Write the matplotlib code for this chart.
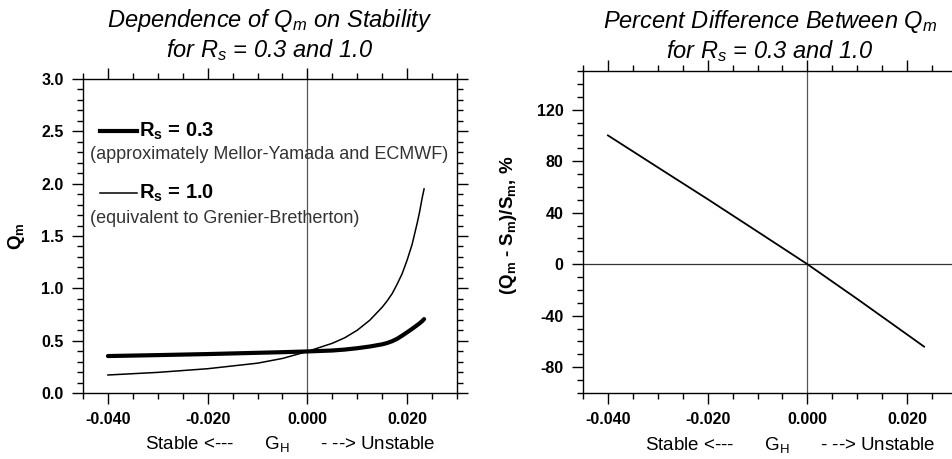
import numpy as np
import matplotlib
matplotlib.use("Agg")
import matplotlib.pyplot as plt
from matplotlib.ticker import MultipleLocator, FixedLocator, FixedFormatter

plt.rcParams['font.family'] = ['Liberation Sans', 'DejaVu Sans']
plt.rcParams['mathtext.default'] = 'regular'
plt.rcParams['axes.unicode_minus'] = False

# G_H values
gh = [-0.040, -0.030, -0.020, -0.010, -0.005, 0.000, 0.005, 0.0075, 0.010,
      0.0125, 0.015, 0.016, 0.017, 0.018, 0.019, 0.020, 0.021, 0.022,
      0.0225, 0.023, 0.0234]
# Q_m for R_s = 0.3 (thick)
qm_03 = [0.353, 0.362, 0.372, 0.384, 0.390, 0.397, 0.406, 0.415, 0.428,
         0.444, 0.465, 0.478, 0.495, 0.518, 0.548, 0.580, 0.613, 0.648,
         0.666, 0.686, 0.706]
# Q_m for R_s = 1.0 (thin)
qm_10 = [0.172, 0.197, 0.232, 0.285, 0.330, 0.397, 0.475, 0.528, 0.600,
         0.695, 0.820, 0.880, 0.950, 1.040, 1.140, 1.270, 1.420, 1.620,
         1.730, 1.860, 1.950]

# percent difference
gh_pct = [-0.040, -0.030, -0.020, -0.010, 0.000, 0.010, 0.020, 0.0234]
pct = [100, 75.2, 50.5, 25.3, 0, -27, -54.6, -64]

xticks = [-0.04, -0.02, 0.0, 0.02]
xticklabels = ['-0.040', '-0.020', '0.000', '0.020']

W, H = 952, 459
fig = plt.figure(figsize=(W / 100, H / 100), dpi=100)


def px_axes(l, r, t, b):
    return fig.add_axes([l / W, (H - b) / H, (r - l) / W, (b - t) / H])


def style(ax):
    ax.set_xlim(-0.045, 0.03)
    ax.xaxis.set_major_locator(FixedLocator(xticks))
    ax.xaxis.set_major_formatter(FixedFormatter(xticklabels))
    ax.xaxis.set_minor_locator(MultipleLocator(0.005))
    ax.tick_params(which='both', direction='out', top=True, right=True,
                   width=1, color='black')
    ax.tick_params(which='major', length=8, labelsize=11.5, pad=6)
    ax.tick_params(which='minor', length=4)
    for lab in ax.get_xticklabels() + ax.get_yticklabels():
        lab.set_fontweight('bold')
    for s in ax.spines.values():
        s.set_linewidth(1.0)
    ax.set_xlabel('Stable <---      G$_H$      - --> Unstable', fontsize=13.5)
    ax.xaxis.set_label_coords(0.555, -0.13)


# left panel
ax1 = px_axes(83, 457, 79, 393)
ax1.axvline(0, color='#555555', lw=0.9)
ax1.plot(gh, qm_03, color='black', lw=3.0, solid_capstyle='round')
ax1.plot(gh, qm_10, color='black', lw=1.1)
ax1.set_ylim(0, 3.0)
ax1.yaxis.set_major_locator(MultipleLocator(0.5))
ax1.yaxis.set_major_formatter(plt.FormatStrFormatter('%.1f'))
ax1.yaxis.set_minor_locator(MultipleLocator(0.1))
style(ax1)
ax1.set_ylabel('Q$_m$', fontsize=13.5, fontweight='bold')
ax1.yaxis.set_label_coords(-0.15, 0.5)
ax1.set_title('Dependence of Q$_m$ on Stability\nfor R$_s$ = 0.3 and 1.0',
              fontsize=17, style='italic', pad=16, linespacing=1.15)

# legend, drawn by hand
ax1.plot([-0.0415, -0.0342], [2.5, 2.5], color='black', lw=3.0)
ax1.text(-0.0337, 2.5, 'R$_s$ = 0.3', fontsize=14.5, fontweight='bold',
         va='center')
ax1.text(-0.0435, 2.28, '(approximately Mellor-Yamada and ECMWF)',
         fontsize=13, color='#333333', va='center')
ax1.plot([-0.0415, -0.0342], [1.91, 1.91], color='black', lw=1.1)
ax1.text(-0.0337, 1.91, 'R$_s$ = 1.0', fontsize=14.5, fontweight='bold',
         va='center')
ax1.text(-0.0435, 1.67, '(equivalent to Grenier-Bretherton)',
         fontsize=13, color='#333333', va='center')

# right panel (runs past the right edge, as in the reference)
ax2 = px_axes(583, 957, 71, 393)
ax2.axvline(0, color='#555555', lw=0.9)
ax2.axhline(0, color='#333333', lw=0.9)
ax2.plot(gh_pct, pct, color='black', lw=1.3)
ax2.set_ylim(-100, 150)
ax2.yaxis.set_major_locator(FixedLocator([-80, -40, 0, 40, 80, 120]))
ax2.yaxis.set_minor_locator(MultipleLocator(10))
style(ax2)
ax2.set_ylabel('(Q$_m$ - S$_m$)/S$_m$, %', fontsize=13.5, fontweight='bold')
ax2.yaxis.set_label_coords(-0.17, 0.52)
ax2.set_title('Percent Difference Between Q$_m$\nfor R$_s$ = 0.3 and 1.0',
              fontsize=17, style='italic', pad=9.5, linespacing=1.15)

fig.savefig('out.png', dpi=100)
